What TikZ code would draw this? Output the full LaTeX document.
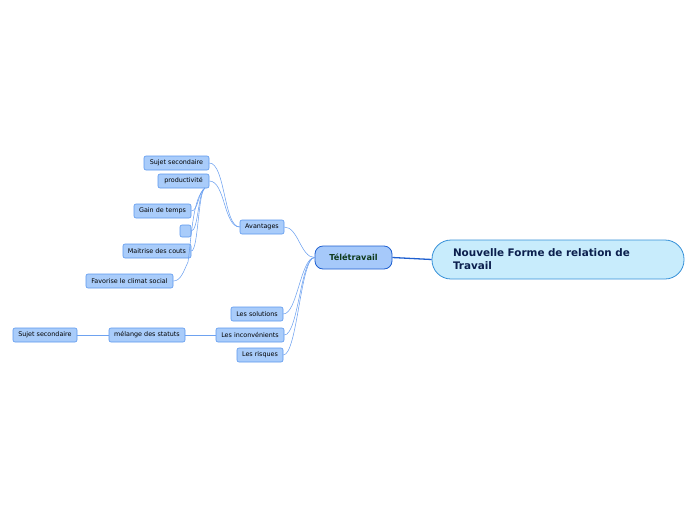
\documentclass[tikz,border=0pt]{standalone}
\usepackage{fontspec}
\setmainfont{DejaVu Sans}
\usepackage{tikz}

\definecolor{rootfill}{HTML}{C8ECFC}
\definecolor{rootline}{HTML}{3590D8}
\definecolor{rootText}{HTML}{0B1F4D}
\definecolor{mainfill}{HTML}{A6C9FA}
\definecolor{mainline}{HTML}{1E5FD0}
\definecolor{mainText}{HTML}{0E3A1C}
\definecolor{subfill}{HTML}{A9CCFA}
\definecolor{subline}{HTML}{5B97EE}
\definecolor{linkcol}{HTML}{6EA2F0}

\tikzset{
  rootbox/.style={draw=rootline,fill=rootfill,rounded corners=19pt,line width=0.8pt,
    minimum width=252pt,minimum height=39pt,text width=210pt,align=left,
    font=\bfseries\fontsize{10.4}{13}\selectfont,text=rootText},
  mainbox/.style={draw=mainline,fill=mainfill,rounded corners=8pt,line width=0.8pt,
    minimum width=77pt,minimum height=23pt,font=\bfseries\fontsize{8.2}{9}\selectfont,text=mainText},
  subbox/.style={draw=subline,fill=subfill,rounded corners=2pt,line width=0.6pt,
    minimum height=14pt,inner xsep=3pt,inner ysep=0pt,font=\fontsize{6.4}{7}\selectfont},
  link/.style={draw=linkcol,line width=0.55pt},
}

\begin{document}
\begin{tikzpicture}[x=1pt,y=-1pt]
  \useasboundingbox (0,0) rectangle (696,520);

  % centre and main topic
  \node[rootbox] (root) at (558,259.5) {Nouvelle Forme de relation de\\Travail};
  \node[mainbox] (tele) at (353.5,257.5) {Télétravail};
  \draw[mainline,line width=1.3pt] (tele.east) -- (root.west);

  % first level
  \node[subbox,minimum width=44pt] (avant) at (262,227) {Avantages};
  \node[subbox,minimum width=52pt] (solut) at (257,314) {Les solutions};
  \node[subbox,minimum width=68pt] (incon) at (250,335) {Les inconvénients};
  \node[subbox,minimum width=46pt] (risques) at (260,355) {Les risques};

  % second level
  \node[subbox,minimum width=65pt] (sujetA) at (176.5,163) {Sujet secondaire};
  \node[subbox,minimum width=51pt] (prod) at (183.5,181) {productivité};
  \node[subbox,minimum width=76pt] (melange) at (147,335) {mélange des statuts};

  % third level
  \node[subbox,minimum width=57pt] (gain) at (162.5,211) {Gain de temps};
  \node[subbox,minimum width=11pt,minimum height=12pt] (vide) at (185.5,231) {};
  \node[subbox,minimum width=68pt] (maitrise) at (157,251) {Maitrise des couts};
  \node[subbox,minimum width=87pt] (climat) at (129.5,281) {Favorise le climat social};
  \node[subbox,minimum width=64pt] (sujetB) at (45,335) {Sujet secondaire};

  \coordinate (prodfoot) at (205,188);

  % connectors
  \foreach \n in {avant,solut,incon,risques}
    \draw[link] (tele.west) .. controls +(-14,0) and +(14,0) .. (\n.east);
  \foreach \n in {sujetA,prod}
    \draw[link] (avant.west) .. controls +(-16,0) and +(16,0) .. (\n.east);
  \foreach \n in {gain,vide,maitrise}
    \draw[link] (prodfoot) .. controls +(-7,4) and +(7,0) .. (\n.east);
  \draw[link] (prodfoot) .. controls +(-12,10) and +(4,-30) .. (188,262)
    .. controls +(-4,8) and +(8,0) .. (climat.east);
  \draw[link] (incon.west) -- (melange.east);
  \draw[link] (melange.west) -- (sujetB.east);
\end{tikzpicture}
\end{document}
